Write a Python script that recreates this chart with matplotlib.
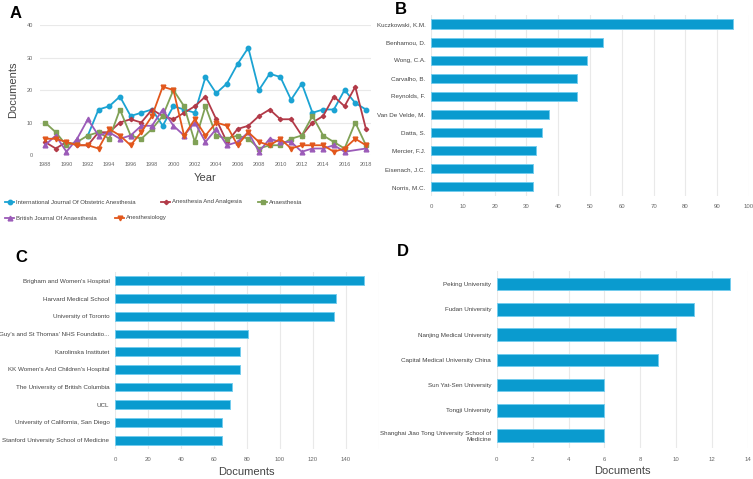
import matplotlib
matplotlib.use("Agg")
import matplotlib.pyplot as plt
from matplotlib.lines import Line2D
from matplotlib.transforms import Bbox, TransformedBbox
import numpy as np

plt.rcParams['font.family'] = ['Liberation Sans', 'DejaVu Sans']

# Panel A: documents per year for top journals
years = list(range(1988, 2019))
ijoa_years = list(range(1992, 2019))
ijoa = [6, 14, 15, 18, 12, 13, 14, 9, 15, 14, 13, 24, 19, 22, 28, 33, 20, 25, 24, 17, 22, 13, 14, 14, 20, 16, 14]
anesth_analg = [4, 2, 4, 3, 3, 7, 7, 10, 11, 10, 14, 12, 11, 13, 15, 18, 11, 4, 8, 9, 12, 14, 11, 11, 6, 10, 12, 18, 15, 21, 8]
anaesthesia = [10, 7, 3, 4, 6, 7, 5, 14, 6, 5, 8, 12, 20, 15, 4, 15, 6, 5, 6, 5, 2, 3, 3, 5, 6, 12, 6, 4, 2, 10, 3]
bja_years = list(range(1988, 2017)) + [2018]
bja = [3, 6, 1, 5, 11, 6, 7, 5, 6, 9, 9, 14, 9, 6, 10, 4, 8, 3, 4, 7, 1, 5, 4, 4, 1, 2, 2, 3, 1, 2]
anesthesiology = [5, 5, 4, 3, 3, 2, 8, 6, 3, 7, 12, 21, 20, 6, 11, 6, 10, 9, 3, 7, 4, 3, 5, 2, 3, 3, 3, 1, 2, 5, 3]

# Panel B: authors
authors = ["Kuczkowski, K.M.", "Benhamou, D.", "Wong, C.A.", "Carvalho, B.", "Reynolds, F.",
           "Van De Velde, M.", "Datta, S.", "Mercier, F.J.", "Eisenach, J.C.", "Norris, M.C."]
author_docs = [95, 54, 49, 46, 46, 37, 35, 33, 32, 32]

# Panel C: institutions
institutions = ["Brigham and Women's Hospital", "Harvard Medical School", "University of Toronto",
                "Guy's and St Thomas' NHS Foundatio...", "Karolinska Institutet",
                "KK Women's And Children's Hospital", "The University of British Columbia", "UCL",
                "University of California, San Diego", "Stanford University School of Medicine"]
inst_docs = [151, 134, 133, 81, 76, 76, 71, 70, 65, 65]

# Panel D: Chinese institutions
cn_institutions = ["Peking University", "Fudan University", "Nanjing Medical University",
                   "Capital Medical University China", "Sun Yat-Sen University", "Tongji University",
                   "Shanghai Jiao Tong University School of\nMedicine"]
cn_docs = [13, 11, 10, 9, 6, 6, 6]

BAR = '#0a9bcf'
BAR_EDGE = '#74cdee'
GRID = '#e9e9e9'
TICK = '#666666'
LABEL = '#444444'

fig = plt.figure(figsize=(7.53, 4.79), dpi=100)

# ---- A ----
axA = fig.add_axes([0.0527, 0.6764, 0.4404, 0.2714])
series = [
    (ijoa_years, ijoa, '#1ba3d3', 'o', 3.2, "International Journal Of Obstetric Anesthesia"),
    (years, anesth_analg, '#b23a48', 'D', 2.2, "Anesthesia And Analgesia"),
    (years, anaesthesia, '#80a156', 's', 3.2, "Anaesthesia"),
    (bja_years, bja, '#9b5bb8', '^', 3.4, "British Journal Of Anaesthesia"),
    (years, anesthesiology, '#e2571c', 'v', 3.4, "Anesthesiology"),
]
for x, y, c, m, ms, name in series:
    axA.plot(x, y, color=c, marker=m, markersize=ms, linewidth=1.3, clip_on=False)
axA.set_xlim(1987.5, 2018.5)
axA.set_ylim(0, 40)
axA.set_yticks(range(0, 41, 10))
axA.set_xticks(range(1988, 2019, 2))
axA.grid(axis='y', color=GRID, linewidth=0.8)
axA.set_axisbelow(True)
for s in axA.spines.values():
    s.set_visible(False)
axA.tick_params(length=0, labelsize=4, labelcolor=TICK, pad=5)
axA.set_xlabel("Year", fontsize=8, color=LABEL, labelpad=4)
axA.set_ylabel("Documents", fontsize=8, color=LABEL, labelpad=6)

# manual flow legend under panel A
legend_pos = [(5, 202), (161, 202), (258, 202), (5, 218), (115, 218)]
for (px, py), (x, y, c, m, ms, name) in zip(legend_pos, series):
    fx0, fx1, fy = px / 753, (px + 9) / 753, 1 - py / 479
    fig.add_artist(Line2D([fx0, fx1], [fy, fy], color=c, linewidth=1.3,
                          transform=fig.transFigure))
    fig.add_artist(Line2D([(fx0 + fx1) / 2], [fy], color=c, marker=m, markersize=ms,
                          transform=fig.transFigure))
    fig.text((px + 11) / 753, fy, name, fontsize=4.3, color=LABEL, va='center', ha='left')


def bar_panel(rect, labels, values, xmax, step, label_x=None):
    ax = fig.add_axes(rect)
    pos = np.arange(len(labels))
    ax.barh(pos, values, height=0.5, color=BAR, edgecolor=BAR_EDGE, linewidth=0.7)
    ax.set_yticks(pos)
    ax.set_yticklabels(labels)
    ax.set_ylim(len(labels) - 0.5, -0.5)
    ax.set_xlim(0, xmax)
    ax.set_xticks(np.arange(0, xmax + step / 2, step))
    ax.grid(axis='x', color=GRID, linewidth=0.8)
    ax.set_axisbelow(True)
    for s in ax.spines.values():
        s.set_visible(False)
    ax.tick_params(axis='x', length=0, labelsize=4.3, labelcolor=TICK, pad=6)
    ax.tick_params(axis='y', length=0, labelsize=4.5, labelcolor=LABEL, pad=4)
    if label_x:
        ax.set_xlabel(label_x, fontsize=8, color=LABEL, labelpad=3)
    return ax


bar_panel([0.5724, 0.5908, 0.4223, 0.378], authors, author_docs, 100, 10)
axC = bar_panel([0.1527, 0.0626, 0.3502, 0.3695], institutions, inst_docs, 160, 20, "Documents")
bar_panel([0.6596, 0.064, 0.334, 0.3693], cn_institutions, cn_docs, 14, 2, "Documents")

# panel C is cut off at its right edge in the original figure
clip = TransformedBbox(Bbox([[0, 0], [372 / 753, 0.5]]), fig.transFigure)
for lbl in axC.get_xticklabels():
    lbl.set_clip_box(clip)
    lbl.set_clip_on(True)

for letter, px, py in [("A", 10, 18), ("B", 395, 14), ("C", 15, 262), ("D", 397, 256)]:
    fig.text(px / 753, 1 - py / 479, letter, fontsize=12, fontweight='bold',
             ha='left', va='baseline')

fig.savefig("out.png", dpi=100)
